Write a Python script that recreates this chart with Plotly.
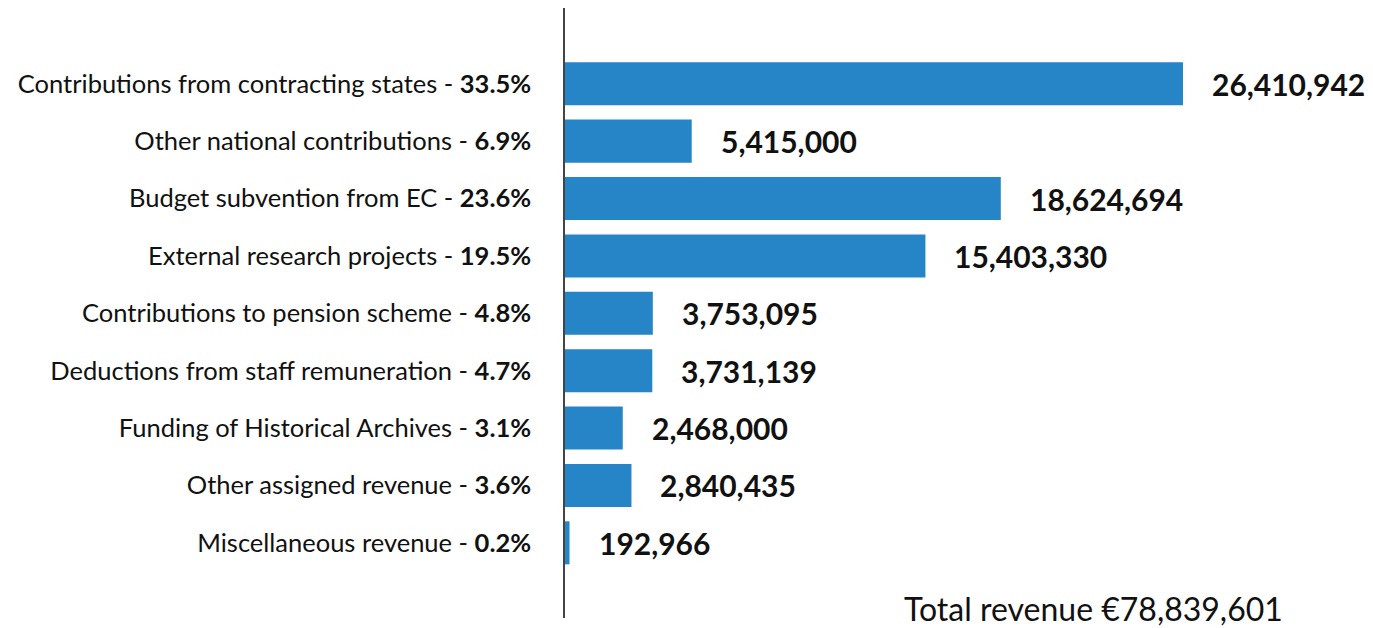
import plotly.graph_objects as go

# revenue categories, top to bottom
categories = [
    "Contributions from contracting states",
    "Other national contributions",
    "Budget subvention from EC",
    "External research projects",
    "Contributions to pension scheme",
    "Deductions from staff remuneration",
    "Funding of Historical Archives",
    "Other assigned revenue",
    "Miscellaneous revenue",
]
shares = ["33.5%", "6.9%", "23.6%", "19.5%", "4.8%", "4.7%", "3.1%", "3.6%", "0.2%"]
amounts = [26410942, 5415000, 18624694, 15403330, 3753095, 3731139, 2468000, 2840435, 192966]
total_label = "Total revenue €78,839,601"

BLUE = "#2585c7"
FONT = "Lato"

tick_text = [c + " - <b>" + s + "</b>" for c, s in zip(categories, shares)]

fig = go.Figure()
fig.add_trace(go.Bar(
    x=amounts,
    y=categories,
    orientation="h",
    marker=dict(color=BLUE, line=dict(width=0)),
    width=0.75,
    hoverinfo="skip",
))

# value labels sit a bit to the right of each bar
for c, v in zip(categories, amounts):
    fig.add_annotation(
        x=v, y=c, xref="x", yref="y",
        text="<b>" + f"{v:,}" + "</b>",
        showarrow=False, xanchor="left", yanchor="middle",
        xshift=27, yshift=0,
        font=dict(family=FONT, size=30, color="#111111"),
    )

fig.add_annotation(
    x=0.9, y=0.016, xref="paper", yref="paper",
    text=total_label, showarrow=False,
    xanchor="right", yanchor="middle",
    font=dict(family=FONT, size=32, color="#111111"),
)

fig.update_layout(
    width=1373, height=628,
    margin=dict(l=565, r=8, t=8, b=10),
    paper_bgcolor="white", plot_bgcolor="white",
    showlegend=False,
    bargap=0.25,
    font=dict(family=FONT, color="#111111"),
    xaxis=dict(range=[0, 34.19e6], visible=False, fixedrange=True),
    yaxis=dict(
        type="category",
        categoryarray=categories,
        range=[9.31, -1.32],
        tickmode="array",
        tickvals=categories,
        ticktext=tick_text,
        tickfont=dict(family=FONT, size=25.5, color="#111111"),
        ticks="",
        ticklabelstandoff=27,
        showline=True, linecolor="#444444", linewidth=1.5,
        showgrid=False, zeroline=False, fixedrange=True,
    ),
)

# drop the page's default body margin so the figure fills the window
fig.write_html("out.html", config={"displayModeBar": False},
               post_script="document.body.style.margin='0';")
